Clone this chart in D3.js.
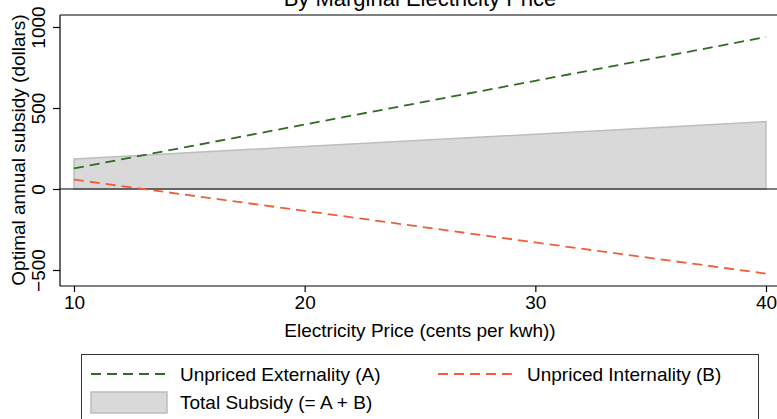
<!DOCTYPE html>
<html>
<head>
<meta charset="utf-8">
<script src="https://cdn.jsdelivr.net/npm/d3@7"></script>
<style>
  body { margin: 0; background: #fff; }
  svg { display: block; font-family: "Liberation Sans", Arial, Helvetica, sans-serif; }
</style>
</head>
<body>
<svg id="chart" width="777" height="419"></svg>
<script>
// Data
const price = [10, 20, 30, 40];
const externality = [127, 398, 668, 938];     // (A)
const internality = [58, -135, -330, -522];   // (B)
const totalSubsidy = [185, 263, 338, 416];    // (= A + B)

const xTicks = [10, 20, 30, 40];
const yTicks = [-500, 0, 500, 1000];

const width = 777;
const height = 419;

const svg = d3.select("#chart");

// Scales
const x = d3.scaleLinear().domain([10, 40]).range([74, 766]);
const y = d3.scaleLinear().domain([-500, 1000]).range([270, 27]);

const plotLeft = 60, plotTop = 15, plotBottom = 286, plotRight = width;

// Title (cut off at top in reference)
svg.append("text")
    .attr("x", 420)
    .attr("y", 6)
    .attr("text-anchor", "middle")
    .attr("font-size", 22)
    .text("By Marginal Electricity Price");

// top frame line
svg.append("line")
    .attr("x1", plotLeft).attr("x2", plotRight)
    .attr("y1", plotTop).attr("y2", plotTop)
    .attr("stroke", "#555").attr("stroke-width", 1.5);

const rows = price.map((p, i) => ({
    p,
    a: externality[i],
    b: internality[i],
    t: totalSubsidy[i],
}));

// Total subsidy area
const area = d3.area()
    .x((d) => x(d.p))
    .y0(y(0))
    .y1((d) => y(d.t));

svg.append("path")
    .datum(rows)
    .attr("d", area)
    .attr("fill", "#d9d9d9")
    .attr("stroke", "#bdbdbd")
    .attr("stroke-width", 1.5);

// zero line
svg.append("line")
    .attr("x1", plotLeft).attr("x2", plotRight)
    .attr("y1", y(0)).attr("y2", y(0))
    .attr("stroke", "#000").attr("stroke-width", 1.2);

// dashed lines
const lineA = d3.line().x((d) => x(d.p)).y((d) => y(d.a));
const lineB = d3.line().x((d) => x(d.p)).y((d) => y(d.b));

svg.append("path")
    .datum(rows)
    .attr("d", lineA)
    .attr("fill", "none")
    .attr("stroke", "#2f6b22")
    .attr("stroke-width", 1.8)
    .attr("stroke-dasharray", "10,6");

svg.append("path")
    .datum(rows)
    .attr("d", lineB)
    .attr("fill", "none")
    .attr("stroke", "#ee5f37")
    .attr("stroke-width", 1.8)
    .attr("stroke-dasharray", "10,6");

// Axes
const yAxis = svg.append("g")
    .attr("transform", `translate(${plotLeft},0)`)
    .call(d3.axisLeft(y).tickValues(yTicks).tickSize(7).tickPadding(0).tickFormat(d3.format("d")));
yAxis.select(".domain").attr("d", `M0,${plotTop}V${plotBottom}`).attr("stroke", "#000").attr("stroke-width", 1.2);
yAxis.selectAll(".tick line").attr("stroke", "#000").attr("stroke-width", 1.2);
yAxis.selectAll(".tick text")
    .attr("font-size", 19)
    .attr("fill", "#000")
    .attr("text-anchor", "middle")
    .attr("x", null).attr("dy", null)
    .attr("transform", "translate(-15,0) rotate(-90)");

const xAxis = svg.append("g")
    .attr("transform", `translate(0,${plotBottom})`)
    .call(d3.axisBottom(x).tickValues(xTicks).tickSize(6).tickPadding(4).tickFormat(d3.format("d")));
xAxis.select(".domain").attr("d", `M${plotLeft},0H${plotRight}`).attr("stroke", "#000").attr("stroke-width", 1.2);
xAxis.selectAll(".tick line").attr("stroke", "#000").attr("stroke-width", 1.2);
xAxis.selectAll(".tick text").attr("font-size", 19).attr("fill", "#000");

// Axis titles
svg.append("text")
    .attr("x", 420)
    .attr("y", 337)
    .attr("text-anchor", "middle")
    .attr("font-size", 19)
    .text("Electricity Price (cents per kwh))");

svg.append("text")
    .attr("transform", "translate(25,150) rotate(-90)")
    .attr("text-anchor", "middle")
    .attr("font-size", 19)
    .text("Optimal annual subsidy (dollars)");

// Legend
const legend = svg.append("g");
legend.append("rect")
    .attr("x", 81.5).attr("y", 354.5)
    .attr("width", 677).attr("height", 80)
    .attr("fill", "#fff")
    .attr("stroke", "#333").attr("stroke-width", 1);

const legendItems = [
    { label: "Unpriced Externality (A)", kind: "line", color: "#2f6b22", lx: 91, ly: 374 },
    { label: "Unpriced Internality (B)", kind: "line", color: "#ee5f37", lx: 438, ly: 374 },
    { label: "Total Subsidy (= A + B)", kind: "area", color: "#d9d9d9", lx: 91, ly: 402 },
];

legendItems.forEach((d) => {
    if (d.kind === "line") {
        legend.append("line")
            .attr("x1", d.lx).attr("x2", d.lx + 76)
            .attr("y1", d.ly).attr("y2", d.ly)
            .attr("stroke", d.color)
            .attr("stroke-width", 1.8)
            .attr("stroke-dasharray", "10,6");
    } else {
        legend.append("rect")
            .attr("x", d.lx).attr("y", d.ly - 10)
            .attr("width", 76).attr("height", 21)
            .attr("fill", d.color)
            .attr("stroke", "#bdbdbd").attr("stroke-width", 1.5);
    }
    legend.append("text")
        .attr("x", d.lx + 89)
        .attr("y", d.ly + 7)
        .attr("font-size", 19)
        .text(d.label);
});
</script>
</body>
</html>
